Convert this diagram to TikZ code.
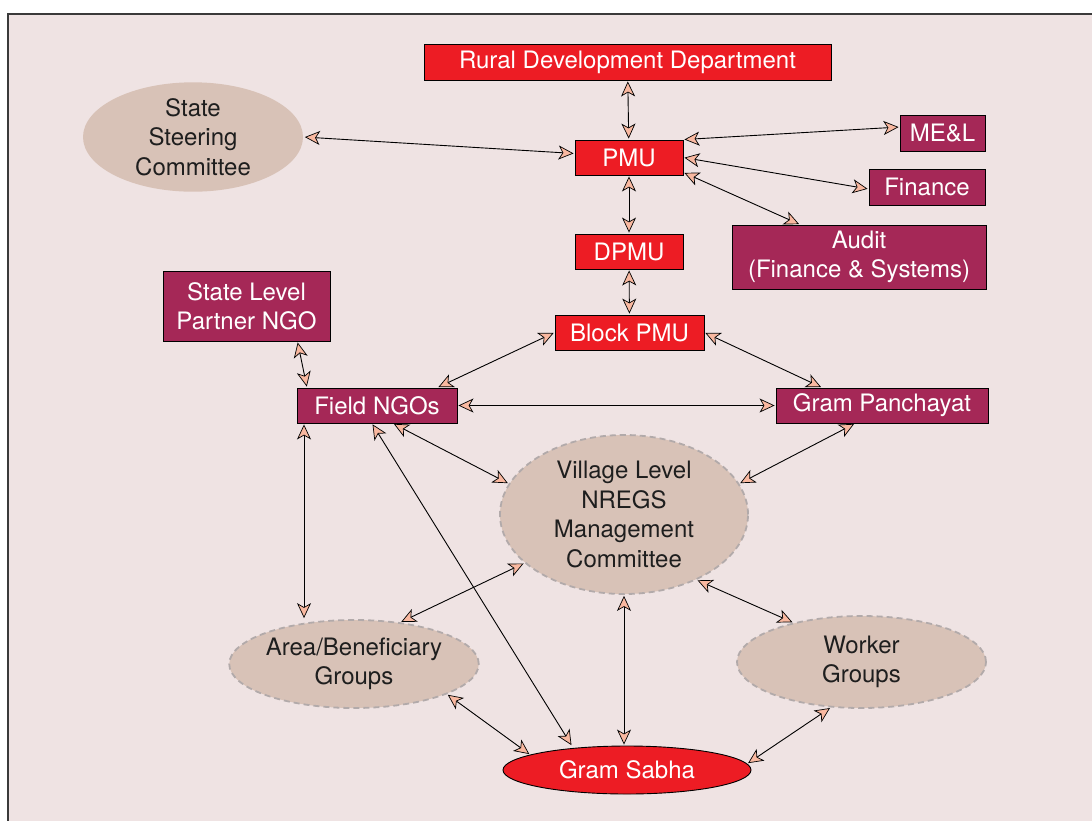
\documentclass[tikz,border=0pt]{standalone}
\usepackage{fontspec}
\setmainfont{TeX Gyre Heros}
\usetikzlibrary{arrows.meta,shapes.geometric,calc}
\definecolor{bgpink}{HTML}{EFE3E3}
\definecolor{framecol}{HTML}{3A3A3A}
\definecolor{nred}{HTML}{ED1C24}
\definecolor{nmaroon}{HTML}{A52857}
\definecolor{ellfill}{HTML}{D8C2B7}
\definecolor{ellline}{HTML}{B2AAAA}
\definecolor{afill}{HTML}{F9B8A0}
\definecolor{txtdark}{HTML}{1E1E1E}
\tikzset{
  boxbase/.style={draw=black, line width=0.9pt, text=white, inner sep=0pt, align=center,
    font=\fontsize{24}{29.5}\selectfont},
  redbox/.style={boxbase, fill=nred},
  marbox/.style={boxbase, fill=nmaroon},
  softell/.style={ellipse, fill=ellfill, draw=ellline, line width=1.8pt, dash pattern=on 6pt off 4pt,
    inner sep=0pt, align=center, text=txtdark, font=\fontsize{24}{29.5}\selectfont},
  redell/.style={ellipse, fill=nred, draw=black, line width=0.9pt, inner sep=0pt, align=center,
    text=white, font=\fontsize{24}{29.5}\selectfont},
  link/.style={draw=black, line width=0.9pt,
    {Stealth[length=15pt, width=14pt, inset=4pt, fill=afill, line width=0.7pt]}-{Stealth[length=15pt, width=14pt, inset=4pt, fill=afill, line width=0.7pt]},
    shorten >=1pt, shorten <=1pt}
}
\begin{document}
\begin{tikzpicture}[x=1pt,y=-1pt]
\useasboundingbox (0,0) rectangle (1092,820);
\fill[bgpink] (8,14) rectangle (1096,824);
\draw[framecol, line width=1.6pt] (1096,14) -- (8,14) -- (8,824);

% boxes
\node[redbox, minimum width=407pt, minimum height=36pt] (rdd) at (627.5,62) {Rural Development Department};
\node[redbox, minimum width=108pt, minimum height=35pt] (pmu) at (629,157.5) {PMU};
\node[redbox, minimum width=108pt, minimum height=35pt] (dpmu) at (629,251.5) {DPMU};
\node[redbox, minimum width=149pt, minimum height=35pt] (bpmu) at (629.5,332.5) {Block PMU};
\node[marbox, minimum width=85pt, minimum height=36pt] (mel) at (942.5,133) {ME\&L};
\node[marbox, minimum width=116pt, minimum height=36pt] (fin) at (927,187) {Finance};
\node[marbox, minimum width=254pt, minimum height=64pt] (aud) at (859,257) {Audit\\(Finance \& Systems)};
\node[marbox, minimum width=167pt, minimum height=70pt] (slp) at (246.5,306) {State Level\\Partner NGO};
\node[marbox, minimum width=160pt, minimum height=35pt] (fngo) at (377,405.5) {Field NGOs};
\node[marbox, minimum width=212pt, minimum height=35pt] (gp) at (882,405.5) {Gram Panchayat};

% ellipses
\node[softell, draw=none, minimum width=220pt, minimum height=100pt] (ssc) at (193,137) {State\\Steering\\Committee};
\node[softell, minimum width=248pt, minimum height=159pt] (vlc) at (624,514.5) {Village Level\\NREGS\\Management\\Committee};
\node[softell, minimum width=248pt, minimum height=88pt] (area) at (354,664) {Area/Beneficiary\\Groups};
\node[softell, minimum width=249pt, minimum height=92pt] (wg) at (861.5,662) {Worker\\Groups};
\node[redell, minimum width=248pt, minimum height=48pt] (gs) at (627,770) {Gram Sabha};

% connectors
\draw[link] (rdd) -- (pmu);
\draw[link] (ssc.east) -- ([yshift=4pt]pmu.west);
\draw[link] (pmu.north east) -- ([yshift=6pt]mel.west);
\draw[link] (pmu.east) -- ([yshift=-2pt]fin.west);
\draw[link] ([yshift=3pt]pmu.south east) -- ([xshift=-59pt]aud.north);
\draw[link] (pmu) -- (dpmu);
\draw[link] (dpmu) -- (bpmu);
\draw[link] (bpmu.west) -- ([xshift=-20pt]fngo.north east);
\draw[link] (bpmu.east) -- ([xshift=-60pt]gp.north);
\draw[link] ([xshift=51pt]slp.south) -- ([xshift=-70pt]fngo.north);
\draw[link] (fngo.east) -- (gp.west);
\draw[link] ([xshift=-73pt]fngo.south) -- ([xshift=-73pt]fngo.south |- area.north);
\draw[link] ([xshift=-5pt]fngo.south) -- ([xshift=-55pt,yshift=24pt]gs.center);
\draw[link] ([xshift=16pt]fngo.south) -- (vlc.165);
\draw[link] ([xshift=-27pt]gp.south) -- (vlc.15);
\draw[link] (vlc.206) -- (area.42);
\draw[link] (vlc.south) -- (vlc.south |- gs.north);
\draw[link] (vlc.-42) -- (wg.150);
\draw[link] (area.-18) -- (gs.171);
\draw[link] (wg.236) -- (gs.3);
\end{tikzpicture}
\end{document}
